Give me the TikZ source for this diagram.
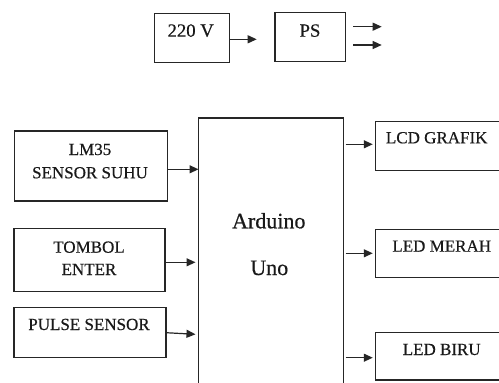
\documentclass[tikz,border=0pt]{standalone}
\usepackage{fontspec}
\setmainfont{Liberation Serif}
\newfontfamily\tnr[FakeBold=0.5]{Liberation Serif}
\usetikzlibrary{arrows.meta}
\begin{document}
\begin{tikzpicture}[x=1pt,y=-1pt,
  box/.style={draw=black!85,line width=1.1pt,rectangle,inner sep=0pt,outer sep=0pt},
  lbl/.style={anchor=base,inner sep=0pt,text=black!90,font=\tnr\fontsize{17}{20}\selectfont},
  toplbl/.style={anchor=base,inner sep=0pt,text=black!90,font=\tnr\fontsize{18.7}{22}\selectfont},
  biglbl/.style={anchor=base,inner sep=0pt,text=black!90,font=\tnr\fontsize{22}{26}\selectfont},
  arr/.style={draw=black!85,line width=1.2pt,-{Triangle[length=9pt,width=8pt]}}]
\useasboundingbox (0,0) rectangle (499,383);
\clip (0,0) rectangle (499,383);
\fill[white] (0,0) rectangle (499,383);
% boxes
\node[box,minimum width=75.3pt,minimum height=48.7pt] (v220) at (191.7,37.7) {};
\node[box,minimum width=70.7pt,minimum height=48.7pt] (ps) at (310.3,36.7) {};
\node[box,minimum width=153.3pt,minimum height=70pt] (lm35) at (90.7,166) {};
\node[box,minimum width=151pt,minimum height=62.7pt] (tombol) at (89.5,259.7) {};
\node[box,minimum width=152pt,minimum height=50pt] (pulse) at (90,332.7) {};
\node[box,minimum width=144.8pt,minimum height=282pt] (ard) at (270.9,259) {};
\node[box,minimum width=144.7pt,minimum height=48.3pt] (lcd) at (447.7,145.9) {};
\node[box,minimum width=144.7pt,minimum height=48pt] (merah) at (447.7,253.3) {};
\node[box,minimum width=144.7pt,minimum height=47.3pt] (biru) at (447.7,356.3) {};
% texts
\node[toplbl] (t220) at (190.7,36.7) {220 V};
\node[toplbl] (tps) at (310,36.7) {PS};
\node[lbl] (tlm1) at (90,155) {LM35};
\node[lbl] (tlm2) at (90,178.3) {SENSOR SUHU};
\node[lbl] (ttb1) at (89,252.7) {TOMBOL};
\node[lbl] (ttb2) at (89,275) {ENTER};
\node[lbl] (tpl) at (89,330) {PULSE SENSOR};
\node[biglbl] (tar1) at (268.8,228.3) {Arduino};
\node[biglbl] (tar2) at (269.3,275) {Uno};
\node[lbl] (tlcd) at (436.7,143.3) {LCD GRAFIK};
\node[lbl] (tmer) at (441.7,251.7) {LED MERAH};
\node[lbl] (tbir) at (441.7,355) {LED BIRU};
% free arrow ends
\coordinate (a220) at (256.7,39.3);
\coordinate (ps1s) at (353.3,26.7);
\coordinate (ps1e) at (381.7,26.7);
\coordinate (ps2s) at (353.3,45);
\coordinate (ps2e) at (381.7,45);
% connectors
\draw[arr] (v220.east |- a220) -- (a220);
\draw[arr] (ps1s) -- (ps1e);
\draw[arr] (ps2s) -- (ps2e);
\draw[arr] ([yshift=-3.3pt]lm35.east) -- ([yshift=-3.3pt]lm35.east -| ard.west);
\draw[arr] ([yshift=-2.6pt]tombol.east) -- ([yshift=-2.6pt,xshift=-3pt]tombol.east -| ard.west);
\draw[arr] (pulse.east) -- ([yshift=-1.6pt,xshift=-3pt]pulse.east -| ard.west);
\draw[arr,shorten <=2.4pt,shorten >=2.6pt] (ard.east |- 0,144.3) -- (lcd.west |- 0,144.3);
\draw[arr,shorten <=2.4pt,shorten >=2.6pt] (ard.east |- merah.center) -- (merah.west);
\draw[arr,shorten <=2.4pt,shorten >=2.6pt] (ard.east |- 0,357.7) -- (biru.west |- 0,357.7);
\end{tikzpicture}
\end{document}
